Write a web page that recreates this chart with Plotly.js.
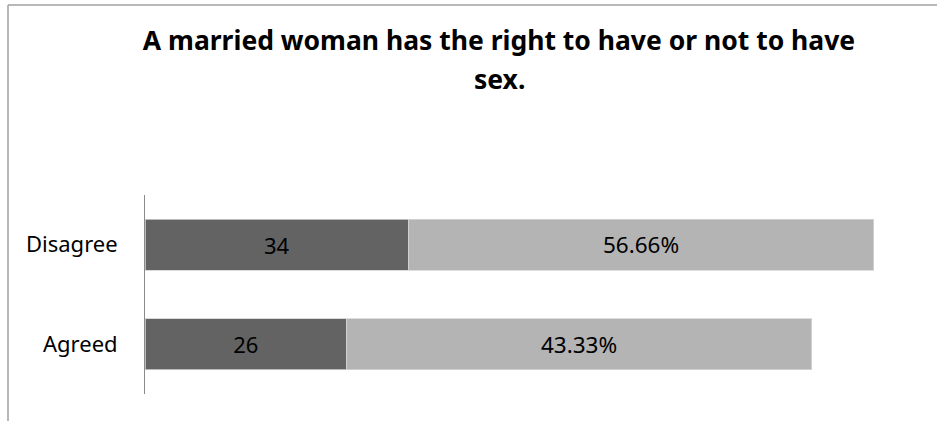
<!DOCTYPE html>
<html>
<head>
<meta charset="utf-8">
<script src="https://cdn.plot.ly/plotly-3.0.1.min.js"></script>
<style>html,body{margin:0;padding:0;background:#fff;}#chart{width:937px;height:421px;}</style>
</head>
<body>
<div id="chart"></div>
<script>
const categories = ['Agreed', 'Disagree'];
const countValues = [26, 34];
const totalValues = [60, 60];
const percentLabels = ['43.33%', '56.66%'];
const titleLine1 = 'A married woman has the right to have or not to have';
const titleLine2 = 'sex.';

const FONT = '"Noto Sans", "Open Sans", sans-serif';
const L = 145, R = 17, T = 195, B = 27, W = 937, H = 421;
const pw = W - L - R, ph = H - T - B;
const px = v => (v - L) / pw;
const py = v => (H - B - v) / ph;
const titleFont = {family: FONT, size: 26.5, color: '#000', weight: 'bold'};

const traces = [
  {
    type: 'bar', orientation: 'h', y: categories, x: countValues,
    text: countValues.map(String), textposition: 'inside', insidetextanchor: 'middle',
    textfont: {family: FONT, size: 22, color: '#000'},
    marker: {color: '#636363', line: {color: '#cfcfcf', width: 0.8}},
    hoverinfo: 'none'
  },
  {
    type: 'bar', orientation: 'h', y: categories, x: totalValues,
    text: percentLabels, textposition: 'inside', insidetextanchor: 'middle',
    textfont: {family: FONT, size: 22.5, color: '#000'},
    marker: {color: '#b4b4b4', line: {color: '#d6d6d6', width: 0.8}},
    hoverinfo: 'none'
  }
];

const layout = {
  width: W, height: H,
  margin: {l: L, r: R, t: T, b: B, pad: 0},
  paper_bgcolor: '#fff', plot_bgcolor: '#fff',
  showlegend: false,
  barmode: 'stack', bargap: 0.49,
  title: {
    text: titleLine1,
    font: titleFont,
    xref: 'container', x: 499 / W, xanchor: 'center',
    yref: 'container', y: 1 - 31 / H, yanchor: 'top'
  },
  annotations: [
    {text: titleLine2, font: titleFont, showarrow: false,
     xref: 'paper', yref: 'paper', x: px(499), xanchor: 'center',
     y: py(99), yanchor: 'bottom'}
  ],
  xaxis: {range: [0, 100], visible: false, showgrid: false, zeroline: false, fixedrange: true},
  yaxis: {
    type: 'category', showline: true, linecolor: '#8a8a8a', linewidth: 1,
    showgrid: false, zeroline: false, ticks: '', ticklabelstandoff: 22,
    tickfont: {family: FONT, size: 22, color: '#000'}, fixedrange: true
  },
  shapes: [
    {type: 'line', xref: 'paper', yref: 'paper', x0: px(8), x1: px(940), y0: py(5), y1: py(5), line: {color: '#a0a0a0', width: 1.5}},
    {type: 'line', xref: 'paper', yref: 'paper', x0: px(8), x1: px(8), y0: py(5), y1: py(425), line: {color: '#a0a0a0', width: 1.5}}
  ]
};

Plotly.newPlot('chart', traces, layout, {displayModeBar: false, staticPlot: true});
</script>
</body>
</html>
